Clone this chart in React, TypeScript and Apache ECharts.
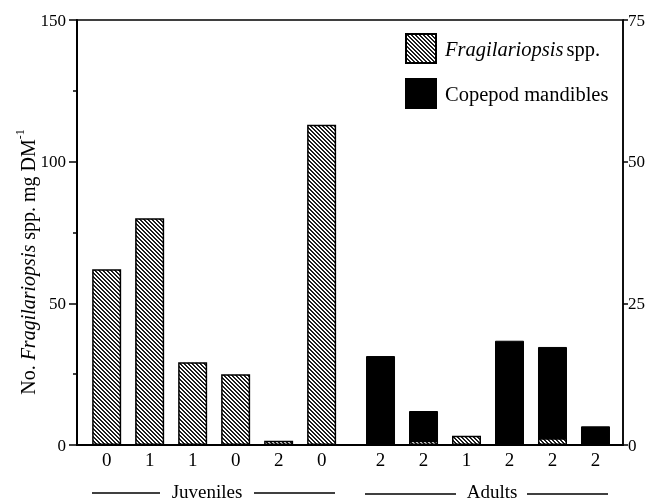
import React, { useEffect, useRef } from "react";
import * as echarts from "echarts";

// x positions of bars (juveniles 0..5, adults shifted after a gap)
const positions = [0, 1, 2, 3, 4, 5, 6.37, 7.37, 8.37, 9.37, 10.37, 11.37];
const stageLabels = ["0", "1", "1", "0", "2", "0", "2", "2", "1", "2", "2", "2"];
// No. Fragilariopsis spp. mg DM-1 (left axis)
const fragilariopsis = [62, 80, 29.2, 25, 1.5, 113, 0, 1.5, 3.3, 0.6, 2.4, 0];
// Copepod mandibles (right axis)
const copepod = [0, 0, 0, 0, 0, 0, 15.7, 6.0, 0, 18.4, 17.3, 3.3];
const leftTicks = [0, 50, 100, 150];
const rightTicks = [0, 25, 50, 75];

const FONT = '"Liberation Serif", "Times New Roman", serif';

function makeHatch(): HTMLCanvasElement {
  const n = 4;
  const c = document.createElement("canvas");
  c.width = n;
  c.height = n;
  const ctx = c.getContext("2d")!;
  ctx.fillStyle = "#ffffff";
  ctx.fillRect(0, 0, n, n);
  ctx.fillStyle = "#1e1e1e";
  for (let i = 0; i < n; i++) {
    ctx.fillRect(i, i, 1, 1);
    ctx.fillRect((i + 1) % n, i, 1, 1);
  }
  return c;
}

export default function App() {
  const ref = useRef<HTMLDivElement>(null);
  useEffect(() => {
    if (!ref.current) return;
    const chart = echarts.init(ref.current, undefined, { renderer: "svg" });
    const hatchColor = { image: makeHatch(), repeat: "repeat" };
    const fragData = positions
      .map((x, i) => [x, fragilariopsis[i]])
      .filter((d) => d[1] > 0);
    const copData = positions
      .map((x, i) => [x, copepod[i]])
      .filter((d) => d[1] > 0);
    chart.setOption({
      animation: false,
      textStyle: { fontFamily: FONT },
      grid: {
        left: 77,
        right: 29,
        top: 20,
        bottom: 55,
        show: true,
        borderColor: "#000",
        borderWidth: 1.5,
        backgroundColor: "transparent",
      },
      legend: {
        orient: "vertical",
        left: 405,
        top: 33,
        padding: 0,
        itemWidth: 30,
        itemHeight: 29,
        itemGap: 14,
        icon: "rect",
        data: ["Fragilariopsis spp.", "Copepod mandibles"],
        formatter: (name: string) =>
          name === "Fragilariopsis spp."
            ? "{i|Fragilariopsis} {n|spp.}"
            : "{n|Copepod mandibles}",
        textStyle: {
          padding: [0, 0, 0, 4],
          rich: {
            i: { fontStyle: "italic", fontSize: 20.5, fontFamily: FONT, color: "#000" },
            n: { fontSize: 20.5, fontFamily: FONT, color: "#000" },
          },
        },
      },
      xAxis: {
        type: "value",
        min: -0.69,
        max: 12.01,
        splitLine: { show: false },
        axisLine: { onZero: false, lineStyle: { color: "#000", width: 2 } },
        axisTick: { show: false },
        axisLabel: {
          customValues: positions,
          formatter: (v: number) => {
            const i = positions.findIndex((p) => Math.abs(p - v) < 1e-6);
            return i >= 0 ? stageLabels[i] : "";
          },
          color: "#000",
          fontSize: 19,
          fontFamily: FONT,
          margin: 5,
        },
      },
      yAxis: [
        {
          type: "value",
          min: leftTicks[0],
          max: leftTicks[leftTicks.length - 1],
          interval: 50,
          position: "left",
          splitLine: { show: false },
          axisLine: { show: true, onZero: false, lineStyle: { color: "#000", width: 2 } },
          axisTick: { show: true, length: 8, lineStyle: { color: "#000", width: 1.5 } },
          minorTick: { show: true, splitNumber: 2, length: 4, lineStyle: { color: "#000", width: 1.5 } },
          axisLabel: { color: "#000", fontSize: 17, fontFamily: FONT, margin: 11 },
        },
        {
          type: "value",
          min: rightTicks[0],
          max: rightTicks[rightTicks.length - 1],
          interval: 25,
          position: "right",
          splitLine: { show: false },
          axisLine: { show: true, onZero: false, lineStyle: { color: "#000", width: 1.5 } },
          axisTick: { show: true, length: 5, lineStyle: { color: "#000", width: 1.5 } },
          axisLabel: { color: "#000", fontSize: 17, fontFamily: FONT, margin: 5 },
        },
      ],
      series: [
        {
          name: "Copepod mandibles",
          type: "bar",
          yAxisIndex: 1,
          data: copData,
          barWidth: 29,
          barGap: "-100%",
          itemStyle: { color: "#000", borderColor: "#000", borderWidth: 1 },
        },
        {
          name: "Fragilariopsis spp.",
          type: "bar",
          yAxisIndex: 0,
          data: fragData,
          barWidth: 29,
          barGap: "-100%",
          itemStyle: { color: hatchColor, borderColor: "#000", borderWidth: 1.5 },
        },
      ],
      graphic: [
        {
          type: "text",
          x: 26,
          y: 262,
          rotation: Math.PI / 2,
          style: {
            text: "{n|No. }{i|Fragilariopsis}{n| spp. mg DM}{s|-1}",
            align: "center",
            verticalAlign: "middle",
            rich: {
              n: { fontSize: 20, fontFamily: FONT, fill: "#000", lineHeight: 24, verticalAlign: "bottom" },
              i: { fontSize: 20, fontFamily: FONT, fill: "#000", fontStyle: "italic", lineHeight: 24, verticalAlign: "bottom" },
              s: { fontSize: 12, fontFamily: FONT, fill: "#000", lineHeight: 24, verticalAlign: "top" },
            },
          },
        },
        { type: "line", shape: { x1: 92, y1: 493, x2: 160, y2: 493 }, style: { stroke: "#000", lineWidth: 1.5 } },
        {
          type: "text",
          x: 207,
          y: 491,
          style: { text: "Juveniles", font: `19px ${FONT}`, fill: "#000", align: "center", verticalAlign: "middle" },
        },
        { type: "line", shape: { x1: 254, y1: 493, x2: 335, y2: 493 }, style: { stroke: "#000", lineWidth: 1.5 } },
        { type: "line", shape: { x1: 365, y1: 494, x2: 456, y2: 494 }, style: { stroke: "#000", lineWidth: 1.5 } },
        {
          type: "text",
          x: 492,
          y: 491,
          style: { text: "Adults", font: `19px ${FONT}`, fill: "#000", align: "center", verticalAlign: "middle" },
        },
        { type: "line", shape: { x1: 527, y1: 494, x2: 608, y2: 494 }, style: { stroke: "#000", lineWidth: 1.5 } },
      ],
    });
    return () => chart.dispose();
  }, []);
  return (
    <div
      ref={ref}
      style={{ position: "fixed", left: 0, top: 0, width: 652, height: 500 }}
    />
  );
}
